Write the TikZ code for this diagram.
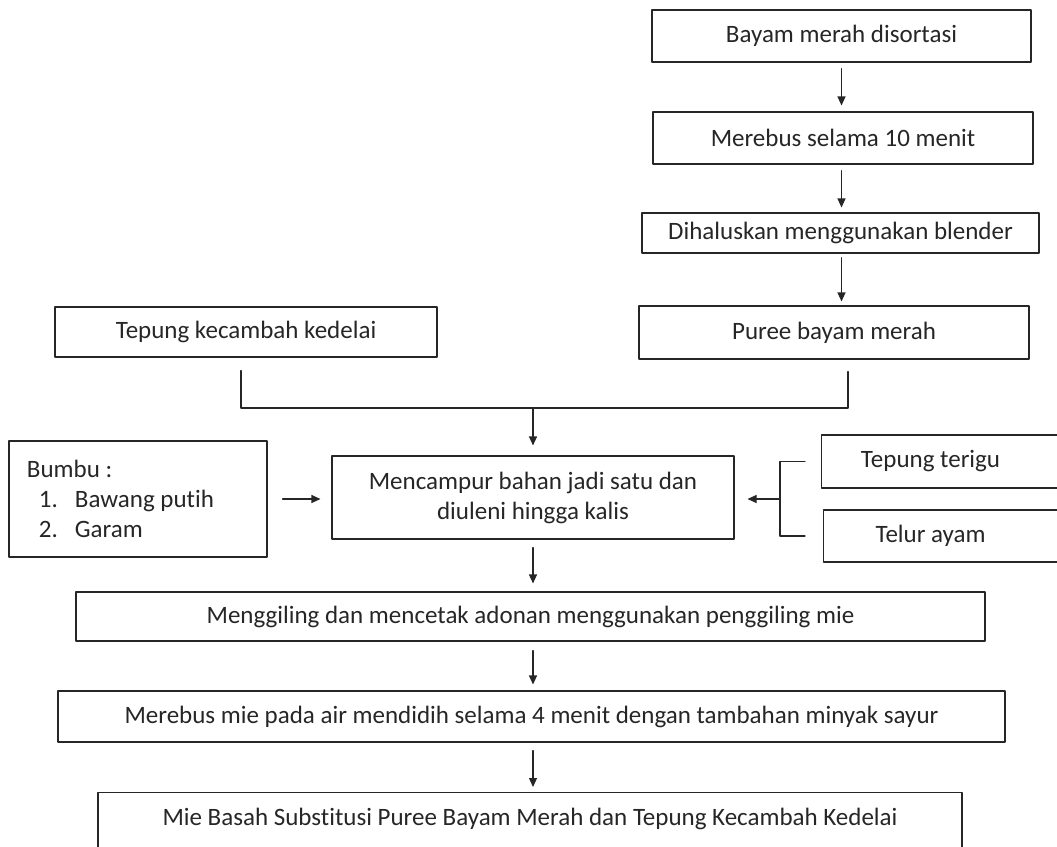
\documentclass[tikz,border=0pt]{standalone}
\usepackage{fontspec}
\setmainfont{Carlito}[Ligatures=NoCommon]
\usetikzlibrary{arrows.meta}

\begin{document}
\begin{tikzpicture}[line cap=round,line join=round,>={Triangle[length=9pt,width=8pt]},x=1pt,y=-1pt,
    kotak/.style={draw=black!85, line width=1.1pt, inner sep=0pt, text=black!85, font=\fontsize{25}{30}\selectfont},
    garis/.style={line width=1.1pt, draw=black!85},
    panah/.style={->, line width=1.1pt, draw=black!85}]
\useasboundingbox (0,0) rectangle (1057,846);
%kolom kanan
    \node[kotak, minimum width=379pt, minimum height=52pt] at (841.5,36)   (sortasi) {Bayam merah disortasi};
    \node[kotak, minimum width=380pt, minimum height=52pt] at (843,138)   (rebus) {Merebus selama 10 menit};
    \node[kotak, minimum width=397pt, minimum height=40pt] at (840.5,233)   (halus) {Dihaluskan menggunakan blender};
    \node[kotak, minimum width=390pt, minimum height=53pt] at (834,332.5)   (puree) {Puree bayam merah};
%kolom kiri
    \node[kotak, minimum width=382pt, minimum height=50pt] at (246,332)   (kecambah) {Tepung kecambah kedelai};
    \node[kotak, minimum width=258pt, minimum height=116pt, text width=222pt, align=flush left] at (138,499)   (bumbu)
        {Bumbu :\\\hspace*{12pt}\makebox[36pt][l]{1.}Bawang putih\\\hspace*{12pt}\makebox[36pt][l]{2.}Garam};
%tengah
    \node[kotak, minimum width=402pt, minimum height=83pt, align=center] at (533,497.5)   (campur)
        {Mencampur bahan jadi satu dan\\diuleni hingga kalis};
    \node[kotak, anchor=west, minimum height=53pt] at (821,461.5)   (terigu) {\makebox[218pt]{Tepung terigu}\hspace*{60pt}\null};
    \node[kotak, anchor=west, minimum height=52pt] at (823,536)   (telur) {\makebox[214pt]{Telur ayam}\hspace*{60pt}\null};
%bawah
    \node[kotak, minimum width=909pt, minimum height=49pt] at (530.5,616.5)   (giling) {Menggiling dan mencetak adonan menggunakan penggiling mie};
    \node[kotak, minimum width=947pt, minimum height=51pt] at (531.5,716.5)   (rebusmie) {Merebus mie pada air mendidih selama 4 menit dengan tambahan minyak sayur};
    \node[kotak, anchor=north, minimum width=864pt, text height=17pt, text depth=40pt, inner ysep=16pt] at (530,792)   (hasil)
        {Mie Basah Substitusi Puree Bayam Merah dan Tepung Kecambah Kedelai};
%%%%%%%%
\coordinate (gabung) at (533,408);
\coordinate (kurung) at (780,499);
%%%panah kanan
\draw [panah, shorten <=6pt, shorten >=6pt] (sortasi.south) -- (sortasi.south |- rebus.north);
\draw [panah, shorten <=6pt, shorten >=5pt] (sortasi.south |- rebus.south) -- (sortasi.south |- halus.north);
\draw [panah, shorten <=4pt, shorten >=4pt] (sortasi.south |- halus.south) -- (sortasi.south |- puree.north);
%%gabung ke campur
\draw [garis] ([xshift=-5pt,yshift=-13pt]kecambah.south) |- (gabung) -| ([xshift=14pt,yshift=-12pt]puree.south);
\draw [panah, shorten >=10pt] (gabung) -- (gabung |- campur.north);
%%bumbu
\draw [panah, shorten <=15pt, shorten >=11pt] (bumbu.east) -- (bumbu.east -| campur.west);
%%kurung terigu telur
\draw [garis] ([xshift=-16pt]terigu.west) -| (kurung) |- ([xshift=-18pt]telur.west);
\draw [panah, shorten >=13pt] (kurung) -- (kurung -| campur.east);
%%panah bawah
\draw [panah, shorten <=8pt, shorten >=8pt] (campur.south) -- (campur.south |- giling.north);
\draw [panah, shorten <=9pt, shorten >=6pt] (campur.south |- giling.south) -- (campur.south |- rebusmie.north);
\draw [panah, shorten <=8pt, shorten >=5pt] (campur.south |- rebusmie.south) -- (campur.south |- hasil.north);
\end{tikzpicture}
\end{document}
